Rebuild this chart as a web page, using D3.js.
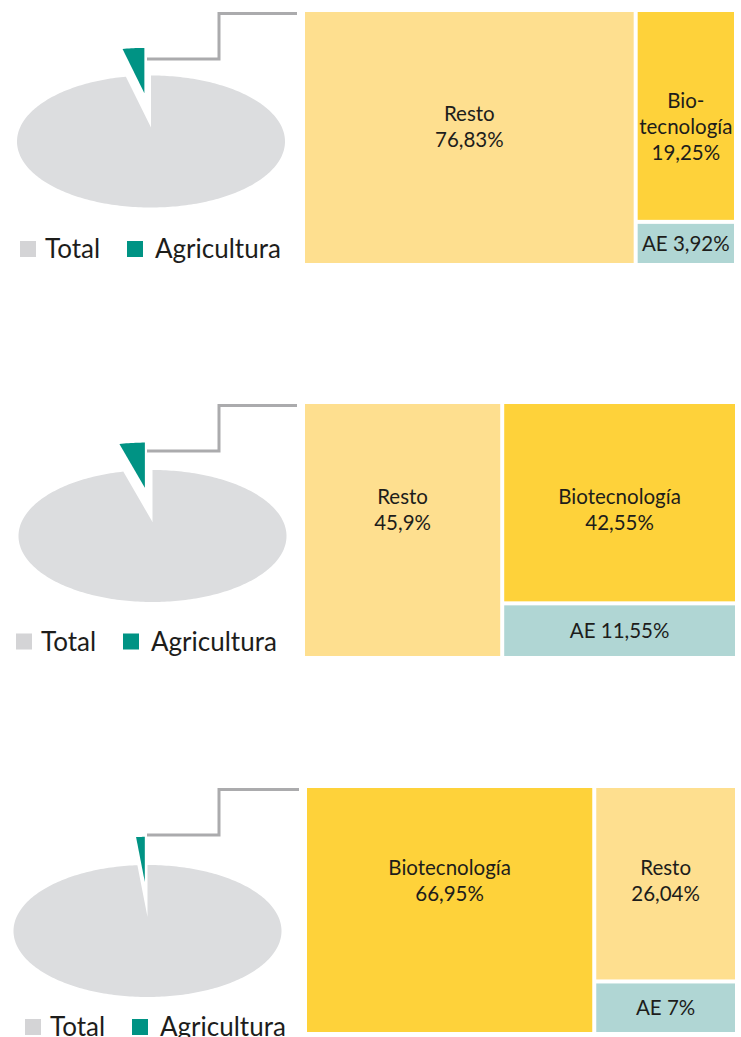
<!DOCTYPE html>
<html><head><meta charset="utf-8">
<script src="https://cdn.jsdelivr.net/npm/d3@7"></script>
<style>
body{margin:0;background:#fff}
svg{display:block}
text{font-family:Lato,"Open Sans",sans-serif;fill:#1d1d1b;font-weight:400}
</style>
</head><body>
<svg id="c" width="741" height="1037"></svg>
<script>
// ---------- data ----------
const agriShare    = [3.0, 3.5, 1.2];            // Agricultura as % of Total (pie)
const legendLabels = ["Total", "Agricultura"];
const firstNames   = ["Resto", "Resto", "Biotecnología"];
const firstValues  = [76.83, 45.9, 66.95];
const secondNames  = ["Biotecnología", "Biotecnología", "Resto"];
const secondValues = [19.25, 42.55, 26.04];
const aeNames      = ["AE", "AE", "AE"];
const aeValues     = [3.92, 11.55, 7];

// ---------- layout ----------
const layout = [
  {tx0:305, tx1:734, ty0:12,  ty1:263,  cx:151,   cy:141.5, legY:249,    legX:20, labelDy:115},
  {tx0:305, tx1:735, ty0:404, ty1:656,  cx:152.5, cy:536,   legY:641.5,  legX:16, labelDy:106},
  {tx0:307, tx1:735, ty0:788, ty1:1032, cx:147.5, cy:931,   legY:1027,   legX:25, labelDy:93}
];
const RX = 134, RY = 66, APEX_UP = 14, EXPLODE = 35, SHRINK = 0.87;
const colors = {"Resto":"#FEDF8F", "Biotecnología":"#FED23A", "AE":"#B0D6D4"};
const pieColors = {"Total":"#DCDDDF", "Agricultura":"#009384"};
const legendColors = {"Total":"#D4D4D6", "Agricultura":"#009384"};

const svg = d3.select("#c");
const fmt = v => String(v).replace(".", ",") + "%";
const line = d3.line().curve(d3.curveLinearClosed);

layout.forEach((L, i) => {
  const g = svg.append("g");

  // ----- pie (flattened) -----
  const share = agriShare[i];
  const start = -share / 100 * 2 * Math.PI;
  const pieData = [{name:"Agricultura", v:share}, {name:"Total", v:100 - share}];
  const arcs = d3.pie().sort(null).value(d => d.v)
    .startAngle(start).endAngle(start + 2 * Math.PI)(pieData);

  const apex = [L.cx, L.cy - APEX_UP];
  const ell = a => [L.cx + RX * Math.sin(a), L.cy - RY * Math.cos(a)];
  function wedge(a) {
    const n = Math.max(8, Math.ceil((a.endAngle - a.startAngle) / 0.02));
    const pts = [apex];
    for (let k = 0; k <= n; k++) pts.push(ell(a.startAngle + (a.endAngle - a.startAngle) * k / n));
    return pts;
  }
  arcs.forEach(a => {
    let pts = wedge(a);
    if (a.data.name === "Agricultura") {
      const mid = (a.startAngle + a.endAngle) / 2;
      let dx = Math.sin(mid) * RX, dy = -Math.cos(mid) * RY;
      const len = Math.hypot(dx, dy);
      const ax = apex[0] + dx / len * EXPLODE, ay = apex[1] + dy / len * EXPLODE;
      pts = pts.map(p => [ax + SHRINK * (p[0] - apex[0]), ay + SHRINK * (p[1] - apex[1])]);
    }
    g.append("path").attr("d", line(pts)).attr("fill", pieColors[a.data.name]);
  });

  // ----- connector -----
  const cxStart = 147, cMid = 219;
  g.append("path")
    .attr("d", d3.line()([[cxStart, L.ty0 + 47], [cMid, L.ty0 + 47], [cMid, L.ty0 + 1.5], [L.tx0 - 8, L.ty0 + 1.5]]))
    .attr("fill", "none").attr("stroke", "#ABABAD").attr("stroke-width", 3);

  // ----- legend -----
  const lg = g.append("g");
  legendLabels.forEach((name, j) => {
    const x = L.legX + j * 107;
    lg.append("rect").attr("x", x).attr("y", L.legY - 8).attr("width", 16).attr("height", 16)
      .attr("fill", legendColors[name]);
    lg.append("text").attr("x", x + 25 + j * 3).attr("y", L.legY).attr("dy", "0.36em")
      .attr("font-size", 26).text(name);
  });

  // ----- treemap -----
  const data = {children: [
    {name: firstNames[i], value: firstValues[i]},
    {children: [
      {name: secondNames[i], value: secondValues[i]},
      {name: aeNames[i], value: aeValues[i]}
    ]}
  ]};
  const root = d3.hierarchy(data).sum(d => d.value || 0);
  d3.treemap().tile(d3.treemapSliceDice)
    .size([L.tx1 - L.tx0, L.ty1 - L.ty0]).paddingInner(4)(root);

  const tg = g.append("g").attr("transform", `translate(${L.tx0},${L.ty0})`);
  root.leaves().forEach(n => {
    const d = n.data;
    tg.append("rect").attr("x", n.x0).attr("y", n.y0)
      .attr("width", n.x1 - n.x0).attr("height", n.y1 - n.y0)
      .attr("fill", colors[d.name]);
    const cxT = (n.x0 + n.x1) / 2;
    const t = tg.append("text").attr("text-anchor", "middle").attr("font-size", 20.5);
    if (d.name === "AE") {
      t.attr("x", cxT).attr("y", (n.y0 + n.y1) / 2).attr("dy", "0.36em")
        .text(d.name + " " + fmt(d.value));
    } else {
      let lines = [d.name, fmt(d.value)];
      if (d.name === "Biotecnología" && n.x1 - n.x0 < 140) lines = ["Bio-", "tecnología", fmt(d.value)];
      const lh = 26;
      const c0 = L.labelDy - (lines.length - 1) * lh / 2;
      lines.forEach((s, k) => {
        t.append("tspan").attr("x", cxT).attr("y", c0 + k * lh).attr("dy", "0.36em").text(s);
      });
    }
  });
});
</script>
</body></html>
